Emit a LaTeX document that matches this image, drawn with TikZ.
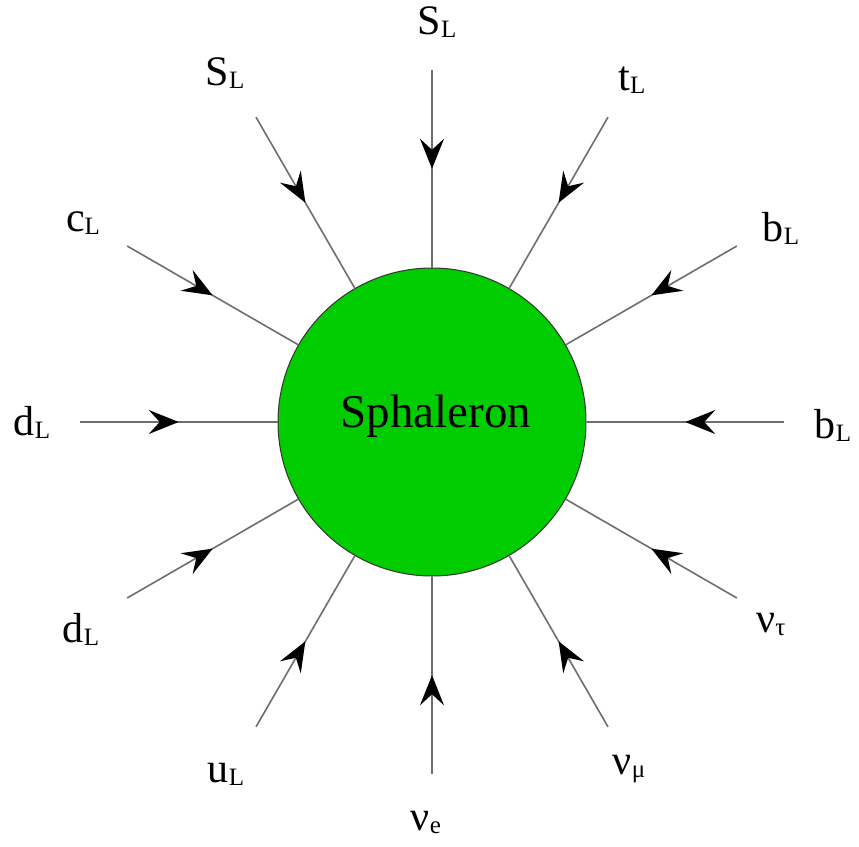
\documentclass[tikz,border=0pt]{standalone}
\usepackage{fontspec}
\setmainfont{Liberation Serif}
\usetikzlibrary{arrows.meta,decorations.markings}
\definecolor{sphgreen}{RGB}{0,204,0}
\definecolor{legcol}{RGB}{110,110,110}
\newcommand{\plab}[2]{{\fontsize{42}{42}\selectfont #1}\raisebox{-0.3em}{\fontsize{25}{25}\selectfont #2}}
\begin{document}
\begin{tikzpicture}[x=1pt,y=-1pt,
  leg/.style={draw=legcol, line width=1.6pt, postaction={decorate},
    decoration={markings, mark=at position 0.5 with {\arrow[black]{Stealth[length=30pt,width=24pt,inset=11pt]}}}},
  lab/.style={inner sep=0pt, anchor=center}]
\useasboundingbox (0,0) rectangle (859,846);
\node[circle, draw=black!80, line width=1pt, fill=sphgreen, minimum size=308pt, inner sep=0pt] (sph) at (432,422) {};
\node[font=\fontsize{47}{47}\selectfont, inner sep=0pt] (txt) at (436,416) {Sphaleron};
\foreach \a/\n in {90/1,60/2,30/3,0/4,-30/5,-60/6,-90/7,-120/8,-150/9,180/10,150/11,120/12}{
  \coordinate (o\n) at ({432+352*cos(\a)},{422-352*sin(\a)});
  \draw[leg] (o\n) -- (sph.\a);
}
\node[lab] (l1) at (437,22) {\plab{S}{L}};
\node[lab] (l2) at (632,80) {\plab{t}{L}};
\node[lab] (l3) at (781,228) {\plab{b}{L}};
\node[lab] (l4) at (833,425) {\plab{b}{L}};
\node[lab] (l5) at (771,624) {\plab{ν}{τ}};
\node[lab] (l6) at (629,769) {\plab{ν}{μ}};
\node[lab] (l7) at (426,822) {\plab{ν}{e}};
\node[lab] (l8) at (226,774) {\plab{u}{L}};
\node[lab] (l9) at (81,629) {\plab{d}{L}};
\node[lab] (l10) at (32,422) {\plab{d}{L}};
\node[lab] (l11) at (83,223) {\plab{c}{L}};
\node[lab] (l12) at (225,73) {\plab{S}{L}};
\end{tikzpicture}
\end{document}
